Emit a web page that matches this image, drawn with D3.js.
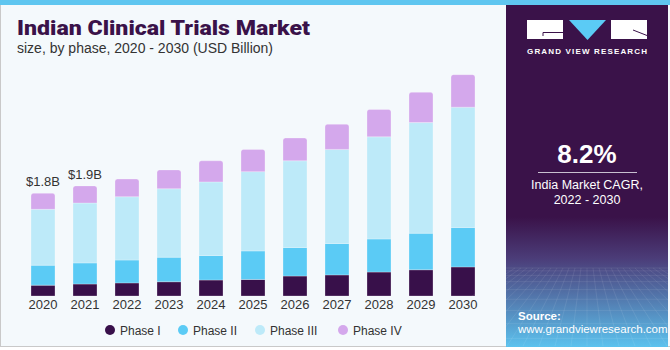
<!DOCTYPE html>
<html>
<head>
<meta charset="utf-8">
<script src="https://cdn.jsdelivr.net/npm/d3@7"></script>
<style>
  body { margin: 0; background: #fff; }
  svg { display: block; font-family: "Liberation Sans", Arial, sans-serif; }
</style>
</head>
<body>
<div id="chart"></div>
<script>
// data (USD Billion)
const years = ["2020", "2021", "2022", "2023", "2024", "2025", "2026", "2027", "2028", "2029", "2030"];
const phaseNames = ["Phase I", "Phase II", "Phase III", "Phase IV"];
const phase1 = [0.19, 0.21, 0.23, 0.25, 0.28, 0.29, 0.35, 0.37, 0.42, 0.46, 0.51];
const phase2 = [0.35, 0.37, 0.40, 0.43, 0.43, 0.50, 0.50, 0.55, 0.58, 0.64, 0.69];
const phase3 = [0.98, 1.05, 1.11, 1.20, 1.29, 1.39, 1.52, 1.65, 1.79, 1.94, 2.11];
const phase4 = [0.28, 0.30, 0.31, 0.33, 0.37, 0.39, 0.40, 0.44, 0.48, 0.53, 0.57];
const labelYears = ["2020", "2021"];
const labelTexts = ["$1.8B", "$1.9B"];

const width = 670, height = 350;

const svg = d3.select("#chart").append("svg")
    .attr("width", width)
    .attr("height", height);

// background panel
svg.append("rect")
    .attr("x", 0).attr("y", 0)
    .attr("width", width).attr("height", 347)
    .attr("fill", "#F4F9FC");
svg.append("line")
    .attr("x1", 0.5).attr("x2", 0.5).attr("y1", 5).attr("y2", 347)
    .attr("stroke", "#c9c9c9");
svg.append("line")
    .attr("x1", 0).attr("x2", width).attr("y1", 346.5).attr("y2", 346.5)
    .attr("stroke", "#c9c9c9");
svg.append("rect")
    .attr("x", 0).attr("y", 0)
    .attr("width", width).attr("height", 5)
    .attr("fill", "#5FC6F0");

// title
svg.append("text")
    .attr("x", 17).attr("y", 35)
    .attr("textLength", 293)
    .attr("lengthAdjust", "spacingAndGlyphs")
    .style("font-family", "Roboto, 'Liberation Sans', sans-serif")
    .style("font-size", "21px")
    .style("font-weight", "900")
    .attr("fill", "#3A1249")
    .text("Indian Clinical Trials Market");

svg.append("text")
    .attr("x", 17).attr("y", 53)
    .style("font-size", "14px")
    .attr("fill", "#333")
    .text("size, by phase, 2020 - 2030 (USD Billion)");

// scales
const x = d3.scaleBand()
    .domain(years)
    .range([22, 484])
    .paddingInner(0.4286)
    .paddingOuter(0.2143);

const y = d3.scaleLinear()
    .domain([0, 4])
    .range([296, 67.8]);

const color = d3.scaleOrdinal()
    .domain(phaseNames)
    .range(["#38104A", "#5BCBF5", "#BDEAF9", "#D4A8EC"]);

const table = years.map((yr, i) => ({
    year: yr,
    "Phase I": phase1[i],
    "Phase II": phase2[i],
    "Phase III": phase3[i],
    "Phase IV": phase4[i]
}));

const stacked = d3.stack().keys(phaseNames)(table);

const graph = svg.append("g");

function segPath(d, rounded) {
    const x0 = x(d.data.year), w = x.bandwidth();
    const yTop = y(d[1]), yBot = y(d[0]);
    const r = rounded ? 2.5 : 0;
    return `M${x0},${yBot}L${x0},${yTop + r}Q${x0},${yTop} ${x0 + r},${yTop}` +
        `L${x0 + w - r},${yTop}Q${x0 + w},${yTop} ${x0 + w},${yTop + r}L${x0 + w},${yBot}Z`;
}

graph.selectAll("g.layer")
    .data(stacked)
    .enter()
    .append("g")
    .attr("class", "layer")
    .attr("fill", d => color(d.key))
    .selectAll("path")
    .data(d => d.map(p => Object.assign(p, { key: d.key })))
    .enter()
    .append("path")
    .attr("d", d => segPath(d, d.key === "Phase IV"))
    .attr("stroke", "#ffffff")
    .attr("stroke-opacity", 0.45)
    .attr("stroke-width", 0.6);

// total labels
const totals = years.map((yr, i) => phase1[i] + phase2[i] + phase3[i] + phase4[i]);
graph.selectAll("text.total")
    .data(labelYears)
    .enter()
    .append("text")
    .attr("class", "total")
    .attr("x", d => x(d) + x.bandwidth() / 2)
    .attr("y", d => y(totals[years.indexOf(d)]) - 7)
    .attr("text-anchor", "middle")
    .style("font-size", "13px")
    .attr("fill", "#333")
    .text((d, i) => labelTexts[i]);

// x axis
const xAxisGroup = svg.append("g")
    .attr("transform", `translate(0, ${y(0)})`)
    .call(d3.axisBottom(x).tickSize(0).tickPadding(4));
xAxisGroup.select(".domain").remove();
xAxisGroup.selectAll("text")
    .style("font-size", "13px")
    .style("font-family", "'Liberation Sans', Arial, sans-serif")
    .attr("fill", "#333");

// legend
const legendX = [110, 183, 260, 343];
const legend = svg.append("g");
legend.selectAll("circle")
    .data(phaseNames)
    .enter()
    .append("circle")
    .attr("cx", (d, i) => legendX[i])
    .attr("cy", 330)
    .attr("r", 5)
    .attr("fill", d => color(d));
legend.selectAll("text")
    .data(phaseNames)
    .enter()
    .append("text")
    .attr("x", (d, i) => legendX[i] + 10)
    .attr("y", 334.5)
    .style("font-size", "12px")
    .attr("fill", "#333")
    .text(d => d);

// right side panel
const side = svg.append("g");
const defs = svg.append("defs");
const grad = defs.append("linearGradient")
    .attr("id", "srcGrad")
    .attr("x1", 0).attr("x2", 0).attr("y1", 0).attr("y2", 1);
grad.append("stop").attr("offset", "0%").attr("stop-color", "#3A1249");
grad.append("stop").attr("offset", "62%").attr("stop-color", "#3A1249");
grad.append("stop").attr("offset", "74%").attr("stop-color", "#4B3C78");
grad.append("stop").attr("offset", "100%").attr("stop-color", "#5CC2EE");

side.append("rect")
    .attr("x", 506).attr("y", 5)
    .attr("width", 162).attr("height", 342)
    .attr("fill", "url(#srcGrad)");

// faint mesh in source area
const mesh = side.append("g")
    .attr("stroke", "#ffffff")
    .attr("stroke-opacity", 0.12)
    .attr("stroke-width", 0.7)
    .attr("fill", "none");
d3.range(0, 10).forEach(k => {
    const yy = 268 + k * k * 0.85 + k * 2;
    if (yy < 346) mesh.append("line").attr("x1", 506).attr("x2", 668).attr("y1", yy).attr("y2", yy);
});
d3.range(-12, 13).forEach(k => {
    mesh.append("line")
        .attr("x1", 587 + k * 6).attr("y1", 268)
        .attr("x2", 587 + k * 16).attr("y2", 346);
});

// logo
const logo = side.append("g");
logo.append("rect").attr("x", 527).attr("y", 20).attr("width", 36).attr("height", 19).attr("fill", "#fff");
logo.append("path").attr("d", "M569,20L606,20L587.5,40Z").attr("fill", "#5BCBF5");
logo.append("rect").attr("x", 611).attr("y", 20).attr("width", 36).attr("height", 19).attr("fill", "#fff");
logo.append("path").attr("d", "M543,36L543,32.5L563,32.5")
    .attr("stroke", "#3A1249").attr("stroke-width", 1).attr("fill", "none");
logo.append("path").attr("d", "M633,30L647,35.5")
    .attr("stroke", "#3A1249").attr("stroke-width", 1).attr("fill", "none");
logo.append("text")
    .attr("x", 587).attr("y", 54)
    .attr("text-anchor", "middle")
    .attr("textLength", 120)
    .style("font-size", "8px")
    .style("font-weight", "bold")
    .attr("fill", "#fff")
    .text("GRAND VIEW RESEARCH");

// CAGR
side.append("text")
    .attr("x", 587).attr("y", 163)
    .attr("text-anchor", "middle")
    .style("font-size", "26px")
    .style("font-weight", "bold")
    .attr("fill", "#fff")
    .text("8.2%");
side.append("line")
    .attr("x1", 538).attr("x2", 637).attr("y1", 172.5).attr("y2", 172.5)
    .attr("stroke", "#c8c0d0").attr("stroke-width", 1);
side.append("text")
    .attr("x", 587).attr("y", 189)
    .attr("text-anchor", "middle")
    .style("font-size", "12.5px")
    .attr("fill", "#fff")
    .text("India Market CAGR,");
side.append("text")
    .attr("x", 587).attr("y", 204)
    .attr("text-anchor", "middle")
    .style("font-size", "12.5px")
    .attr("fill", "#fff")
    .text("2022 - 2030");

// source
side.append("text")
    .attr("x", 518).attr("y", 320)
    .style("font-size", "11.5px")
    .style("font-weight", "bold")
    .attr("fill", "#fff")
    .text("Source:");
side.append("text")
    .attr("x", 518).attr("y", 333)
    .style("font-size", "11.5px")
    .attr("fill", "#fff")
    .text("www.grandviewresearch.com");
</script>
</body>
</html>
